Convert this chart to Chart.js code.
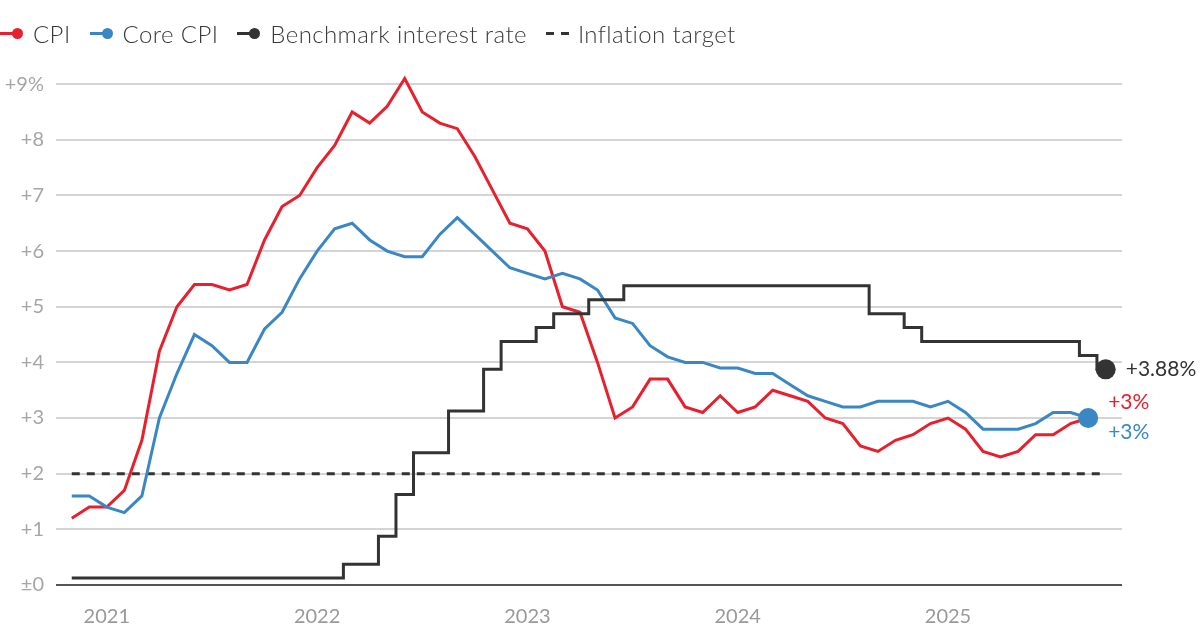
<!DOCTYPE html>
<html>
<head>
<meta charset="utf-8">
<script src="https://cdn.jsdelivr.net/npm/chart.js@4.4.1/dist/chart.umd.min.js"></script>
<style>
html, body { margin: 0; padding: 0; background: #fff; }
#wrap { position: relative; width: 1200px; height: 636px; }
#legend { position: absolute; left: 0; top: 19px; display: flex; align-items: center; font: 300 24px Lato, sans-serif; letter-spacing: 0.4px; color: #3a3a3a; }
.item { display: flex; align-items: center; margin-right: 19px; }
.mark { position: relative; width: 23px; height: 11px; margin-right: 10px; }
.mark .ln { position: absolute; left: 0; top: 4px; width: 14px; height: 3px; }
.mark .dt { position: absolute; left: 12px; top: 0; width: 11px; height: 11px; border-radius: 50%; }
.dash { display: flex; width: 23px; margin-right: 9px; justify-content: space-between; }
.dash span { width: 8px; height: 3px; background: #333; }
</style>
</head>
<body>
<div id="wrap">
  <div id="legend"></div>
  <canvas id="chart" width="1200" height="636"></canvas>
</div>
<script>
// monthly, Nov 2020 .. Sep 2025 (index 0 = Nov 2020)
var cpi = [1.2, 1.4,
  1.4, 1.7, 2.6, 4.2, 5.0, 5.4, 5.4, 5.3, 5.4, 6.2, 6.8, 7.0,
  7.5, 7.9, 8.5, 8.3, 8.6, 9.1, 8.5, 8.3, 8.2, 7.7, 7.1, 6.5,
  6.4, 6.0, 5.0, 4.9, 4.0, 3.0, 3.2, 3.7, 3.7, 3.2, 3.1, 3.4,
  3.1, 3.2, 3.5, 3.4, 3.3, 3.0, 2.9, 2.5, 2.4, 2.6, 2.7, 2.9,
  3.0, 2.8, 2.4, 2.3, 2.4, 2.7, 2.7, 2.9, 3.0];
var coreCpi = [1.6, 1.6,
  1.4, 1.3, 1.6, 3.0, 3.8, 4.5, 4.3, 4.0, 4.0, 4.6, 4.9, 5.5,
  6.0, 6.4, 6.5, 6.2, 6.0, 5.9, 5.9, 6.3, 6.6, 6.3, 6.0, 5.7,
  5.6, 5.5, 5.6, 5.5, 5.3, 4.8, 4.7, 4.3, 4.1, 4.0, 4.0, 3.9,
  3.9, 3.8, 3.8, 3.6, 3.4, 3.3, 3.2, 3.2, 3.3, 3.3, 3.3, 3.2,
  3.3, 3.1, 2.8, 2.8, 2.8, 2.9, 3.1, 3.1, 3.0];
// benchmark rate (midpoint of target range), month-end, Nov 2020 .. Oct 2025
var fedRate = [0.125, 0.125,
  0.125, 0.125, 0.125, 0.125, 0.125, 0.125, 0.125, 0.125, 0.125, 0.125, 0.125, 0.125,
  0.125, 0.125, 0.375, 0.375, 0.875, 1.625, 2.375, 2.375, 3.125, 3.125, 3.875, 4.375,
  4.375, 4.625, 4.875, 4.875, 5.125, 5.125, 5.375, 5.375, 5.375, 5.375, 5.375, 5.375,
  5.375, 5.375, 5.375, 5.375, 5.375, 5.375, 5.375, 5.375, 4.875, 4.875, 4.625, 4.375,
  4.375, 4.375, 4.375, 4.375, 4.375, 4.375, 4.375, 4.375, 4.125, 3.875];
var inflationTarget = [2, 2];
var targetIdx = [0, 59];

var yearLabels = ['2021', '2022', '2023', '2024', '2025'];
var yearIdx = [2, 14, 26, 38, 50];
var yTickLabels = ['±0', '+1', '+2', '+3', '+4', '+5', '+6', '+7', '+8', '+9%'];
var legendNames = ['CPI', 'Core CPI', 'Benchmark interest rate', 'Inflation target'];
var endLabelText = ['+3%', '+3%', '+3.88%'];

var RED = '#e8202e', BLUE = '#3a87c4', DARK = '#333333';

function pts(arr) { return arr.map(function(v, i) { return {x: i, y: v}; }); }
function lastDot(r) {
  return function(c) { return c.dataIndex === c.dataset.data.length - 1 ? r : 0; };
}

// legend
var legend = document.getElementById('legend');
[RED, BLUE, DARK].forEach(function(col, i) {
  var it = document.createElement('div');
  it.className = 'item';
  it.innerHTML = '<div class="mark"><div class="ln" style="background:' + col + '"></div><div class="dt" style="background:' + col + '"></div></div><span>' + legendNames[i] + '</span>';
  legend.appendChild(it);
});
var tg = document.createElement('div');
tg.className = 'item';
tg.innerHTML = '<div class="dash"><span></span><span></span></div><span>' + legendNames[3] + '</span>';
legend.appendChild(tg);

var endLabels = {
  id: 'endLabels',
  afterDatasetsDraw: function(chart) {
    var ctx = chart.ctx;
    var notes = [
      {ds: 0, color: RED, dx: 20, dy: -16, text: endLabelText[0]},
      {ds: 1, color: BLUE, dx: 20, dy: 14, text: endLabelText[1]},
      {ds: 2, color: DARK, dx: 20, dy: 0, text: endLabelText[2]}
    ];
    ctx.save();
    ctx.font = '21px Lato, sans-serif';
    ctx.textBaseline = 'middle';
    notes.forEach(function(n) {
      var meta = chart.getDatasetMeta(n.ds);
      var p = meta.data[meta.data.length - 1];
      ctx.fillStyle = n.color;
      ctx.fillText(n.text, p.x + n.dx, p.y + n.dy);
    });
    ctx.restore();
  }
};

new Chart(document.getElementById('chart'), {
  type: 'line',
  data: {
    datasets: [{
      label: legendNames[0],
      data: pts(cpi),
      borderColor: RED,
      backgroundColor: RED,
      borderWidth: 3,
      pointRadius: 0,
      order: 2
    }, {
      label: legendNames[1],
      data: pts(coreCpi),
      borderColor: BLUE,
      backgroundColor: BLUE,
      borderWidth: 3,
      pointRadius: lastDot(10),
      pointBorderWidth: 0,
      order: 1
    }, {
      label: legendNames[2],
      data: pts(fedRate),
      borderColor: DARK,
      backgroundColor: DARK,
      borderWidth: 3,
      stepped: 'middle',
      pointRadius: lastDot(10),
      pointBorderWidth: 0,
      order: 0
    }, {
      label: legendNames[3],
      data: inflationTarget.map(function(v, i) { return {x: targetIdx[i], y: v}; }),
      borderColor: DARK,
      borderWidth: 3,
      borderDash: [8, 7],
      pointRadius: 0,
      order: 3
    }]
  },
  options: {
    responsive: false,
    animation: false,
    devicePixelRatio: 1,
    layout: { padding: { top: 73, right: 78, left: 0, bottom: 0 } },
    plugins: { legend: { display: false }, tooltip: { enabled: false } },
    elements: { line: { tension: 0, borderCapStyle: 'butt', borderJoinStyle: 'miter' } },
    scales: {
      x: {
        type: 'linear',
        min: -0.9,
        max: 59.93,
        grid: { display: false },
        border: { display: false },
        afterBuildTicks: function(s) { s.ticks = yearIdx.map(function(v) { return {value: v}; }); },
        afterFit: function(s) { s.height = 51; },
        ticks: {
          autoSkip: false,
          maxRotation: 0,
          padding: 12,
          color: '#999',
          font: { family: 'Lato', size: 20 },
          callback: function(v) { return yearLabels[yearIdx.indexOf(v)]; }
        }
      },
      y: {
        min: 0,
        max: 9.2,
        afterBuildTicks: function(s) {
          s.ticks = yTickLabels.map(function(t, i) { return {value: i}; });
        },
        afterFit: function(s) { s.width = 56; },
        grid: {
          drawTicks: false,
          color: function(c) { return c.tick.value === 0 ? '#555' : '#d4d4d4'; },
          lineWidth: 2
        },
        border: { display: false },
        ticks: {
          padding: 12,
          color: '#a6a6a6',
          font: { family: 'Lato', size: 20 },
          callback: function(v) { return yTickLabels[v]; }
        }
      }
    }
  },
  plugins: [endLabels]
});
</script>
</body>
</html>
